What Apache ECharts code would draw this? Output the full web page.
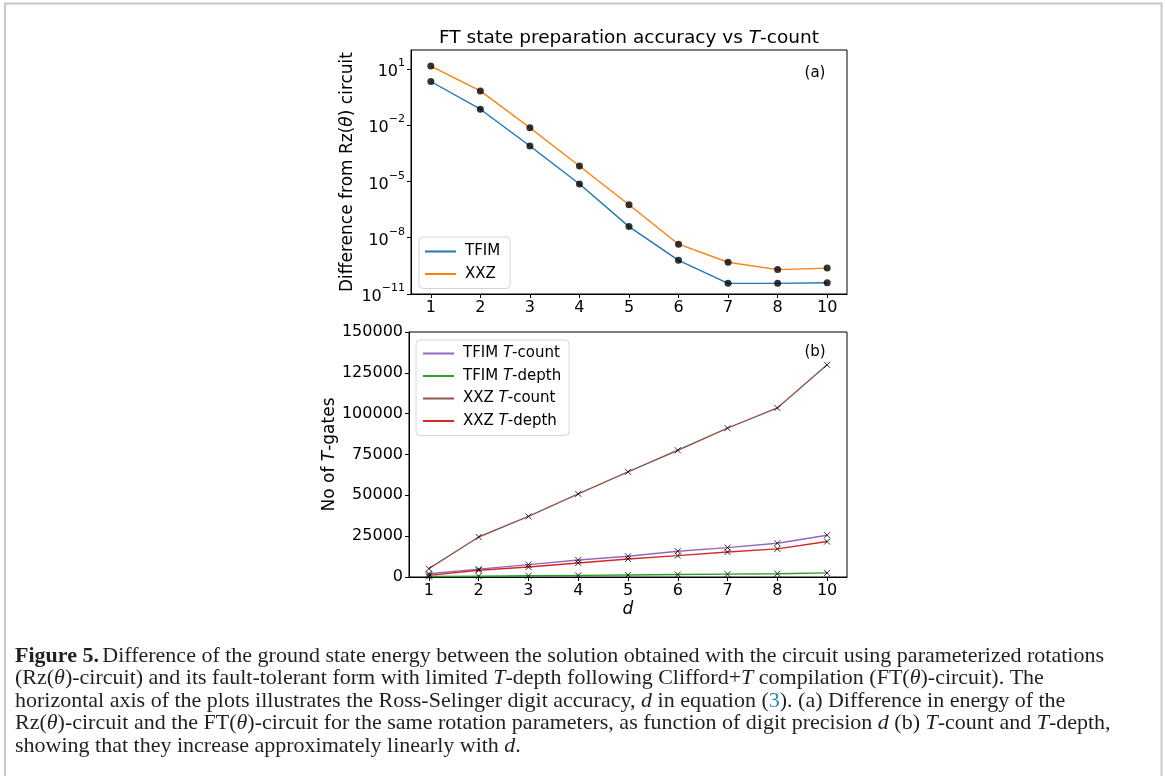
<!DOCTYPE html>
<html>
<head>
<meta charset="utf-8">
<script src="https://cdn.jsdelivr.net/npm/echarts@6/dist/echarts.min.js"></script>
<style>
html,body{margin:0;padding:0;background:#fff;}
#chart{width:1165px;height:776px;}
</style>
</head>
<body>
<div id="chart"></div>
<script>
// ---- data ----
const dLabels = ['1','2','3','4','5','6','7','8','10'];
const dPos = [0,1,2,3,4,5,6,7,8];
const tfimDiff = [2.1, 0.07, 7.7e-4, 7.2e-6, 3.9e-8, 6.2e-10, 3.7e-11, 3.7e-11, 4.0e-11];
const xxzDiff  = [14, 0.66, 7.2e-3, 6.6e-5, 5.7e-7, 4.5e-9, 4.9e-10, 2.0e-10, 2.4e-10];
const tfimTCount = [2000, 4800, 7600, 10400, 12700, 15800, 18000, 20700, 25600];
const tfimTDepth = [300, 500, 750, 1000, 1250, 1500, 1750, 2000, 2500];
const xxzTCount  = [5100, 24500, 37100, 50900, 64400, 77600, 91100, 103500, 129900];
const xxzTDepth  = [1000, 4100, 6100, 8600, 11000, 13100, 15300, 17200, 21700];
const logTicks = [1e1, 1e-2, 1e-5, 1e-8, 1e-11];

const pts = arr => arr.map((v, i) => [dPos[i], v]);
const FONT = 'DejaVu Sans';
const C = {blue:'#1f77b4', orange:'#ff7f0e', green:'#2ca02c', red:'#d62728', purple:'#9467bd', brown:'#8c564b'};

const tickFs = 16;
const axisCommonX = (gi) => ({
  type: 'value', gridIndex: gi, min: -0.4, max: 8.4,
  axisLine: {show: true, onZero: false, lineStyle: {color: '#000', width: 1}},
  axisTick: {show: true, length: 4, inside: false, customValues: dPos, lineStyle: {color: '#000'}},
  axisLabel: {show: true, customValues: dPos, margin: 6, fontFamily: FONT, fontSize: tickFs, color: '#000',
    formatter: v => dLabels[Math.round(v)] ?? ''},
  splitLine: {show: false}
});

const supMap = v => {
  const e = Math.round(Math.log10(v));
  return '{b|10}{s|' + (e < 0 ? '\u2212' + (-e) : String(e)) + '}';
};

const legendRich = {
  n: {fontFamily: FONT, fontSize: 15, color: '#000'},
  i: {fontFamily: FONT, fontSize: 15, fontStyle: 'italic', color: '#000'}
};
const legendNames = {
  'TFIM T-count': 'TFIM {i|T}{n|-count}',
  'TFIM T-depth': 'TFIM {i|T}{n|-depth}',
  'XXZ T-count': 'XXZ {i|T}{n|-count}',
  'XXZ T-depth': 'XXZ {i|T}{n|-depth}'
};

const crossPath = 'path://M0,0L10,10M0,10L10,0';
const capFs = 22;

const option = {
  animation: false,
  backgroundColor: '#fff',
  grid: [
    {left: 411, top: 50, width: 436, height: 244, show: true, borderColor: '#000', borderWidth: 1, backgroundColor: 'transparent'},
    {left: 409, top: 332, width: 438, height: 245, show: true, borderColor: '#000', borderWidth: 1, backgroundColor: 'transparent'}
  ],
  xAxis: [
    axisCommonX(0),
    Object.assign(axisCommonX(1), {
      name: '{i|d}', nameLocation: 'middle', nameGap: 24,
      nameTextStyle: {rich: {i: {fontFamily: FONT, fontSize: 17, fontStyle: 'italic', color: '#000'}}}
    })
  ],
  yAxis: [
    {
      type: 'log', logBase: 10, gridIndex: 0, min: 1e-11, max: 1e2,
      axisLine: {show: true, onZero: false, lineStyle: {color: '#000'}},
      axisTick: {show: true, length: 4, customValues: logTicks, lineStyle: {color: '#000'}},
      axisLabel: {show: true, customValues: logTicks, margin: 6, formatter: supMap,
        rich: {
          b: {fontFamily: FONT, fontSize: tickFs, color: '#000', lineHeight: 22, verticalAlign: 'bottom'},
          s: {fontFamily: FONT, fontSize: 11, color: '#000', lineHeight: 22, verticalAlign: 'top'}
        }},
      splitLine: {show: false}, minorTick: {show: false},
      name: 'Difference from Rz({i|θ}) circuit', nameLocation: 'middle', nameGap: 55, nameRotate: 90,
      nameTextStyle: {fontFamily: FONT, fontSize: 17, color: '#000',
        rich: {i: {fontFamily: FONT, fontSize: 17, fontStyle: 'italic', color: '#000'}}}
    },
    {
      type: 'value', gridIndex: 1, min: 0, max: 150000, interval: 25000,
      axisLine: {show: true, onZero: false, lineStyle: {color: '#000'}},
      axisTick: {show: true, length: 4, lineStyle: {color: '#000'}},
      axisLabel: {show: true, margin: 6, fontFamily: FONT, fontSize: tickFs, color: '#000', formatter: v => String(v)},
      splitLine: {show: false},
      name: 'No of {i|T}-gates', nameLocation: 'middle', nameGap: 70, nameRotate: 90,
      nameTextStyle: {fontFamily: FONT, fontSize: 17, color: '#000',
        rich: {i: {fontFamily: FONT, fontSize: 17, fontStyle: 'italic', color: '#000'}}}
    }
  ],
  legend: [
    {
      data: ['TFIM', 'XXZ'], orient: 'vertical', left: 419, top: 237,
      icon: 'rect', itemWidth: 31, itemHeight: 2, itemGap: 7.5,
      padding: [7, 10, 7, 6], borderColor: '#d6d6d6', borderWidth: 1, borderRadius: 4,
      backgroundColor: 'rgba(255,255,255,0.85)',
      textStyle: {fontFamily: FONT, fontSize: 15, color: '#000', padding: [0,0,0,4]},
      selectedMode: false
    },
    {
      data: ['TFIM T-count', 'TFIM T-depth', 'XXZ T-count', 'XXZ T-depth'], orient: 'vertical', left: 416, top: 340,
      icon: 'rect', itemWidth: 31, itemHeight: 2, itemGap: 7.5,
      padding: [6, 8, 7, 7], borderColor: '#d6d6d6', borderWidth: 1, borderRadius: 4,
      backgroundColor: 'rgba(255,255,255,0.85)',
      formatter: name => legendNames[name] || name,
      textStyle: {fontFamily: FONT, fontSize: 15, color: '#000', rich: legendRich, padding: [0,0,0,4]},
      selectedMode: false
    }
  ],
  series: [
    {name: 'TFIM', type: 'line', xAxisIndex: 0, yAxisIndex: 0, data: pts(tfimDiff), symbol: 'none',
      lineStyle: {color: C.blue, width: 1.4}, itemStyle: {color: C.blue}, z: 2},
    {name: 'XXZ', type: 'line', xAxisIndex: 0, yAxisIndex: 0, data: pts(xxzDiff), symbol: 'none',
      lineStyle: {color: C.orange, width: 1.4}, itemStyle: {color: C.orange}, z: 2},
    {name: 'TFIM-pts', type: 'scatter', xAxisIndex: 0, yAxisIndex: 0, data: pts(tfimDiff), symbol: 'circle', symbolSize: 7,
      itemStyle: {color: '#000'}, z: 3},
    {name: 'XXZ-pts', type: 'scatter', xAxisIndex: 0, yAxisIndex: 0, data: pts(xxzDiff), symbol: 'circle', symbolSize: 7,
      itemStyle: {color: '#000'}, z: 3},

    {name: 'TFIM T-count', type: 'line', xAxisIndex: 1, yAxisIndex: 1, data: pts(tfimTCount), symbol: 'none',
      lineStyle: {color: C.purple, width: 1.4}, itemStyle: {color: C.purple}, z: 2},
    {name: 'TFIM T-depth', type: 'line', xAxisIndex: 1, yAxisIndex: 1, data: pts(tfimTDepth), symbol: 'none',
      lineStyle: {color: C.green, width: 1.4}, itemStyle: {color: C.green}, z: 2},
    {name: 'XXZ T-count', type: 'line', xAxisIndex: 1, yAxisIndex: 1, data: pts(xxzTCount), symbol: 'none',
      lineStyle: {color: C.brown, width: 1.4}, itemStyle: {color: C.brown}, z: 2},
    {name: 'XXZ T-depth', type: 'line', xAxisIndex: 1, yAxisIndex: 1, data: pts(xxzTDepth), symbol: 'none',
      lineStyle: {color: C.red, width: 1.4}, itemStyle: {color: C.red}, z: 2},
    ...[tfimTCount, tfimTDepth, xxzTCount, xxzTDepth].map((arr, k) => ({
      name: 'mk' + k, type: 'scatter', xAxisIndex: 1, yAxisIndex: 1, data: pts(arr), symbol: crossPath, symbolSize: 6,
      itemStyle: {color: '#000', borderColor: '#000', borderWidth: 1}, z: 3
    }))
  ],
  graphic: [
    {type: 'rect', silent: true, shape: {x: 5, y: 3.5, width: 1156.5, height: 800},
      style: {fill: 'none', stroke: '#c8c8c8', lineWidth: 2}},
    {type: 'text', x: 629, y: 38, style: {
      text: '{n|FT state preparation accuracy vs }{i|T}{n|-count}', align: 'center', verticalAlign: 'middle',
      rich: {n: {fontFamily: FONT, fontSize: 18.5, fill: '#000'}, i: {fontFamily: FONT, fontSize: 18.5, fontStyle: 'italic', fill: '#000'}}}},
    {type: 'text', x: 815, y: 73, style: {text: '(a)', align: 'center', verticalAlign: 'middle', fontFamily: FONT, fontSize: 15, fill: '#000'}},
    {type: 'text', x: 815, y: 352, style: {text: '(b)', align: 'center', verticalAlign: 'middle', fontFamily: FONT, fontSize: 15, fill: '#000'}},
    ...[
      '{b|Figure 5.} {n|Difference of the ground state energy between the solution obtained with the circuit using parameterized rotations}',
      '{n|(Rz(}{i|θ}{n|)-circuit) and its fault-tolerant form with limited }{i|T}{n|-depth following Clifford+}{i|T}{n| compilation (FT(}{i|θ}{n|)-circuit). The}',
      '{n|horizontal axis of the plots illustrates the Ross-Selinger digit accuracy, }{i|d}{n| in equation (}{c|3}{n|). (a) Difference in energy of the}',
      '{n|Rz(}{i|θ}{n|)-circuit and the FT(}{i|θ}{n|)-circuit for the same rotation parameters, as function of digit precision }{i|d}{n| (b) }{i|T}{n|-count and }{i|T}{n|-depth,}',
      '{n|showing that they increase approximately linearly with }{i|d}{n|.}'
    ].map((t, k) => ({
      type: 'text', x: 15, y: 656 + k * 22.5, style: {
        text: t, align: 'left', verticalAlign: 'middle',
        rich: {
          n: {fontFamily: 'Liberation Serif', fontSize: capFs, fill: '#231f20'},
          b: {fontFamily: 'Liberation Serif', fontSize: capFs, fontWeight: 'bold', fill: '#231f20'},
          i: {fontFamily: 'Liberation Serif', fontSize: capFs, fontStyle: 'italic', fill: '#231f20'},
          c: {fontFamily: 'Liberation Serif', fontSize: capFs, fill: '#2a88b5'}
        }
      }
    }))
  ]
};

const chart = echarts.init(document.getElementById('chart'), null, {renderer: 'canvas'});
chart.setOption(option);
</script>
</body>
</html>
